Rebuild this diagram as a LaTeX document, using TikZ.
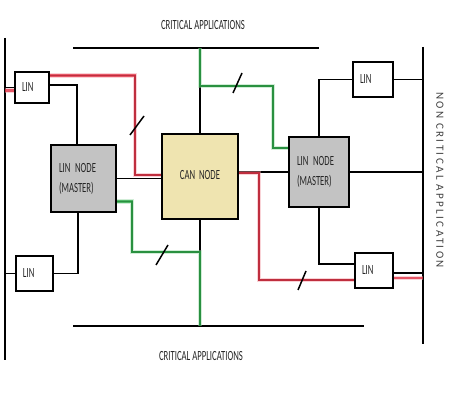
\documentclass[tikz,border=0pt]{standalone}
\usepackage{fontspec}
\setmainfont{Carlito}[FakeStretch=0.62]
\newfontfamily\sidefont{Carlito}[LetterSpace=22]
\usepackage{tikz}

\definecolor{cantan}{HTML}{EFE4B0}
\definecolor{boxgray}{HTML}{C3C3C3}
\definecolor{hlred}{HTML}{E0263A}
\definecolor{hlgreen}{HTML}{1FA33C}
\definecolor{sidegray}{HTML}{404040}
\definecolor{textgray}{HTML}{262626}

\begin{document}
\begin{tikzpicture}[x=1pt, y=-1pt,
        bus/.style={line width=1.8pt},
        wire/.style={line width=1.6pt},
        linbox/.style={rectangle, draw=black, line width=2pt, fill=white, align=left, inner xsep=7pt, minimum height=35pt, text=textgray, font=\fontsize{14}{20}\selectfont},
        master/.style={rectangle, draw=black, line width=2pt, fill=boxgray, align=left, inner xsep=8pt, text=textgray, font=\fontsize{14}{20}\selectfont},
        canbox/.style={rectangle, draw=black, line width=2pt, fill=cantan, minimum width=76pt, minimum height=85pt, text=textgray, font=\fontsize{14}{20}\selectfont},
        redline/.style={draw=hlred, line width=2.6pt, opacity=0.72, preaction={draw=hlred!45, line width=4.5pt, opacity=0.45}},
        greenline/.style={draw=hlgreen, line width=2.6pt, opacity=0.72, preaction={draw=hlgreen!45, line width=4.5pt, opacity=0.45}},
        cut/.style={line width=1.5pt},
        apptext/.style={text=textgray, font=\fontsize{14}{16}\selectfont},
        sidetext/.style={font=\sidefont\fontsize{11}{12}\selectfont, text=sidegray}
      ]
        \useasboundingbox (0,0) rectangle (474,401);

        % buses
        \coordinate (busLt) at (5,38);    \coordinate (busLb) at (5,360);
        \coordinate (busRt) at (423,47);  \coordinate (busRb) at (423,344);
        \coordinate (busTl) at (73,48);   \coordinate (busTr) at (319,48);
        \coordinate (busBl) at (73,326);  \coordinate (busBr) at (364,326);
        \draw[bus] (busLt) -- (busLb);
        \draw[bus] (busRt) -- (busRb);
        \draw[bus] (busTl) -- (busTr);
        \draw[bus] (busBl) -- (busBr);

        \node[apptext]  (critT)  at (203,25)   {CRITICAL APPLICATIONS};
        \node[apptext]  (critB)  at (201,356)  {CRITICAL APPLICATIONS};
        \node[sidetext, rotate=-90]  (noncrit)  at (440,180)  {NON CRITICAL APPLICATION};

        % nodes
        \node[linbox, text width=20pt, minimum height=31pt]  (linTL)  at (32,87.5)    {LIN};
        \node[linbox, text width=23pt]                       (linBL)  at (34.5,273.5) {LIN};
        \node[master, text width=49pt, minimum height=67pt]  (masterL) at (83.5,178.5) {LIN NODE\\(MASTER)};
        \node[canbox]                                        (can)    at (200,176.5)  {\raisebox{3pt}{CAN~~NODE}};
        \node[master, text width=44pt, minimum height=70pt]  (masterR) at (319,172)   {LIN NODE\\(MASTER)};
        \node[linbox, text width=26pt]                       (linTR)  at (373,79.5)   {LIN};
        \node[linbox, text width=24pt]                       (linBR)  at (374,270.5)  {LIN};

        \coordinate (rA) at (135,175);
        \coordinate (rB) at (259,280);
        \coordinate (gA) at (132,252);
        \coordinate (gB) at (273,86);
        \coordinate (rL) at ([yshift=-3pt]linTL.west);
        \coordinate (pBR) at ([yshift=-2.5pt]linBR.east);
        \coordinate (rR) at ([yshift=-7.5pt]linBR.east);

        % wires
        \draw[wire] (linTL.west) -- (linTL.west -| busLt);
        \draw[wire] ([yshift=2.5pt]linTL.east) -| ([xshift=-6.5pt]masterL.north);
        \draw[wire] ([yshift=12pt]linTL.east) -| (rA) -- (rA -| can.west);
        \draw[wire] (masterL.east) -- (masterL.east -| can.west);
        \draw[wire] ([xshift=-5.5pt]masterL.south) |- (linBL.east);
        \draw[wire] (linBL.west) -- (linBL.west -| busLt);
        \draw[wire] ([yshift=-23pt]masterL.east) -| (gA) -- (gA -| can.south);
        \draw[wire] (can.north) -- (can.north |- busTl);
        \draw[wire] (can.south) -- (can.south |- busBl);
        \draw[wire] (can.north |- busTl) |- (gB) |- ([yshift=24pt]masterR.west);
        \draw[wire] ([yshift=4.5pt]can.east) -- (masterR.west);
        \draw[wire] ([yshift=3.5pt]can.east) -| (rB) -- (rB -| linBR.west);
        \draw[wire] (masterR.north) |- (linTR.west);
        \draw[wire] (linTR.east) -- (linTR.east -| busRt);
        \draw[wire] (masterR.east) -- (masterR.east -| busRt);
        \draw[wire] (masterR.south) |- ([yshift=6.5pt]linBR.west);
        \draw[wire] (pBR) -- (pBR -| busRt);

        % highlighted paths
        \draw[redline] (rL) -- (rL -| busLt);
        \draw[redline] ([yshift=12pt]linTL.east) -| (rA) -- (rA -| can.west);
        \draw[greenline] ([yshift=-23pt]masterL.east) -| (gA) -- (gA -| can.south) -- (can.south |- busBl);
        \draw[greenline] (can.north |- busTl) |- (gB) |- ([yshift=24pt]masterR.west);
        \draw[redline] ([yshift=3.5pt]can.east) -| (rB) -- (rB -| linBR.west);
        \draw[redline] (rR) -- (rR -| busRt);

        % cuts
        \coordinate (cut1) at (137,125);
        \coordinate (cut2) at (162,255);
        \coordinate (cut3) at (237.5,83);
        \coordinate (cut4) at (302,280.5);
        \draw[cut] (cut1) ++(-7,10) -- ++(14,-19);
        \draw[cut] (cut2) ++(-6,10) -- ++(12,-20);
        \draw[cut] (cut3) ++(-4.5,10) -- ++(9,-20);
        \draw[cut] (cut4) ++(-4,9.5) -- ++(8,-19);
      \end{tikzpicture}
\end{document}
